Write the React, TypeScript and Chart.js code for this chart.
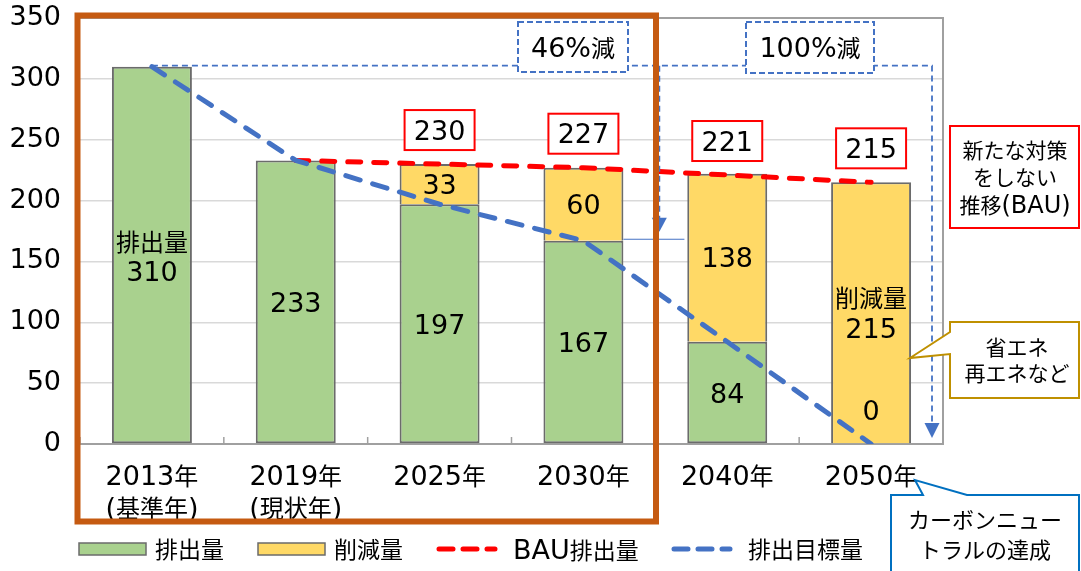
import { useEffect, useRef } from 'react';
import { Chart, registerables } from 'chart.js';

Chart.register(...registerables);

// ---- data ----
const categories = ['2013年', '2019年', '2025年', '2030年', '2040年', '2050年'];
const categoryNotes = ['(基準年)', '(現状年)', '', '', '', ''];
const emissions = [310, 233, 197, 167, 84, 0];
const reductions = [null, null, 33, 60, 138, 215];
const bauTotals = [null, 233, 230, 227, 221, 215];
const targetPath = [310, 233, 197, 167, 84, 0];
const boxedTotals = [null, null, 230, 227, 221, 215];
const yMin = 0;
const yMax = 350;
const yStep = 50;
const seriesNames = ['排出量', '削減量', 'BAU排出量', '排出目標量'];
const reductionNote46 = '46%減';
const reductionNote100 = '100%減';
const bauNote = ['新たな対策', 'をしない', '推移(BAU)'];
const measuresNote = ['省エネ', '再エネなど'];
const neutralNote = ['カーボンニュー', 'トラルの達成'];

const LATIN = '"DejaVu Sans"';
const CJK = '"Noto Sans CJK JP"';

type Run = { t: string; latin: boolean };
function splitRuns(text: string): Run[] {
  const runs: Run[] = [];
  for (const ch of text) {
    const latin = ch.charCodeAt(0) < 0x2000;
    const last = runs[runs.length - 1];
    if (last && last.latin === latin) last.t += ch;
    else runs.push({ t: ch, latin });
  }
  return runs;
}

function drawMixed(
  ctx: CanvasRenderingContext2D,
  text: string,
  x: number,
  cy: number,
  ls: number,
  cs: number,
  align: 'left' | 'center' = 'center',
  color = '#000'
) {
  const runs = splitRuns(text);
  let w = 0;
  const widths = runs.map((r) => {
    ctx.font = r.latin ? `${ls}px ${LATIN}` : `${cs}px ${CJK}`;
    const m = ctx.measureText(r.t).width;
    w += m;
    return m;
  });
  let sx = align === 'center' ? x - w / 2 : x;
  const hasLatin = runs.some((r) => r.latin && r.t.trim().length > 0);
  const base = cy + (hasLatin ? ls * 0.36 : cs * 0.38);
  ctx.textBaseline = 'alphabetic';
  ctx.textAlign = 'left';
  ctx.fillStyle = color;
  runs.forEach((r, i) => {
    ctx.font = r.latin ? `${ls}px ${LATIN}` : `${cs}px ${CJK}`;
    ctx.fillText(r.t, sx, base);
    sx += widths[i];
  });
}

function dashedBox(ctx: CanvasRenderingContext2D, x1: number, y1: number, x2: number, y2: number) {
  ctx.save();
  ctx.fillStyle = '#fff';
  ctx.fillRect(x1, y1, x2 - x1, y2 - y1);
  ctx.strokeStyle = '#4472C4';
  ctx.lineWidth = 2;
  ctx.setLineDash([6, 3]);
  ctx.strokeRect(x1, y1, x2 - x1, y2 - y1);
  ctx.restore();
}

function arrowDown(ctx: CanvasRenderingContext2D, x: number, tipY: number, h: number, hw: number, color: string) {
  ctx.save();
  ctx.fillStyle = color;
  ctx.beginPath();
  ctx.moveTo(x - hw, tipY - h);
  ctx.lineTo(x + hw, tipY - h);
  ctx.lineTo(x, tipY);
  ctx.closePath();
  ctx.fill();
  ctx.restore();
}

function callout(
  ctx: CanvasRenderingContext2D,
  pts: [number, number][],
  color: string
) {
  ctx.save();
  ctx.fillStyle = '#fff';
  ctx.strokeStyle = color;
  ctx.lineWidth = 2;
  ctx.lineJoin = 'miter';
  ctx.beginPath();
  pts.forEach(([px, py], i) => (i === 0 ? ctx.moveTo(px, py) : ctx.lineTo(px, py)));
  ctx.closePath();
  ctx.fill();
  ctx.stroke();
  ctx.restore();
}

const backPlugin = {
  id: 'back',
  beforeDatasetsDraw(chart: any) {
    const { ctx, chartArea: a, scales } = chart;
    const x = scales.x;
    ctx.save();
    ctx.strokeStyle = '#A0A0A0';
    ctx.lineWidth = 2;
    ctx.beginPath();
    ctx.moveTo(a.left, a.top);
    ctx.lineTo(a.right, a.top);
    ctx.lineTo(a.right, a.bottom);
    ctx.lineTo(a.left, a.bottom);
    ctx.stroke();
    const half = (x.getPixelForValue(1) - x.getPixelForValue(0)) / 2;
    ctx.lineWidth = 1.5;
    for (let i = 0; i <= categories.length; i++) {
      const bx = x.getPixelForValue(0) - half + i * half * 2;
      ctx.beginPath();
      ctx.moveTo(bx, a.bottom);
      ctx.lineTo(bx, a.bottom - 7);
      ctx.stroke();
    }
    ctx.restore();
  },
};

const overlayPlugin = {
  id: 'overlay',
  afterDatasetsDraw(chart: any) {
    const { ctx, chartArea: a, scales } = chart;
    const x = scales.x;
    const y = scales.y;
    const ds = chart.data.datasets;
    ctx.save();

    // x labels
    categories.forEach((c, i) => {
      drawMixed(ctx, c, x.getPixelForValue(i), 475, 27, 24);
      if (categoryNotes[i]) drawMixed(ctx, categoryNotes[i], x.getPixelForValue(i), 507, 27, 24);
    });

    // in-bar labels
    emissions.forEach((v, i) => {
      const cx = x.getPixelForValue(i);
      const mid = (y.getPixelForValue(0) + y.getPixelForValue(v)) / 2;
      if (i === 0) {
        drawMixed(ctx, seriesNames[0], cx, mid - 13, 27, 24);
        drawMixed(ctx, String(v), cx, mid + 16, 27, 24);
      } else if (v === 0) {
        drawMixed(ctx, String(v), cx, y.getPixelForValue(0) - 34, 27, 24);
      } else {
        drawMixed(ctx, String(v), cx, mid, 27, 24);
      }
    });
    reductions.forEach((r, i) => {
      if (r == null) return;
      const cx = x.getPixelForValue(i);
      const bottom = y.getPixelForValue(emissions[i]);
      const top = y.getPixelForValue(emissions[i] + r);
      const mid = (bottom + top) / 2;
      if (emissions[i] === 0) {
        drawMixed(ctx, seriesNames[1], cx, mid - 15, 27, 24);
        drawMixed(ctx, String(r), cx, mid + 15, 27, 24);
      } else {
        drawMixed(ctx, String(r), cx, mid, 27, 24);
      }
    });

    // total boxes
    boxedTotals.forEach((t, i) => {
      if (t == null) return;
      const cx = x.getPixelForValue(i);
      const cy = y.getPixelForValue(t) - 34;
      ctx.fillStyle = '#fff';
      ctx.fillRect(cx - 35, cy - 20, 70, 40);
      ctx.strokeStyle = '#FF0000';
      ctx.lineWidth = 2;
      ctx.strokeRect(cx - 35, cy - 20, 70, 40);
      drawMixed(ctx, String(t), cx, cy, 27, 24);
    });

    // reduction guide lines
    const blue = '#4472C4';
    const x0 = x.getPixelForValue(0);
    const yTop = y.getPixelForValue(emissions[0]) - 1;
    const xEnd = a.right - 11;
    const y0 = y.getPixelForValue(0);
    const half = (x.getPixelForValue(1) - x.getPixelForValue(0)) / 2;
    const xMid = x.getPixelForValue(3) + half + 4;
    const y2030 = y.getPixelForValue(emissions[3]);
    ctx.save();
    ctx.strokeStyle = blue;
    ctx.lineWidth = 1.8;
    ctx.setLineDash([6, 4]);
    ctx.beginPath();
    ctx.moveTo(x0, yTop);
    ctx.lineTo(xEnd, yTop);
    ctx.lineTo(xEnd, y0 - 18);
    ctx.stroke();
    ctx.beginPath();
    ctx.moveTo(xMid, yTop);
    ctx.lineTo(xMid, y2030 - 22);
    ctx.stroke();
    ctx.setLineDash([]);
    ctx.lineWidth = 1.2;
    ctx.beginPath();
    ctx.moveTo(x.getPixelForValue(3) + 40, y2030 - 1.5);
    ctx.lineTo(x.getPixelForValue(3) + 101, y2030 - 1.5);
    ctx.stroke();
    ctx.restore();
    arrowDown(ctx, xEnd, y0 - 6, 15, 7.5, blue);
    arrowDown(ctx, xMid, y2030 - 9, 14, 7.5, blue);

    dashedBox(ctx, 518, 22, 628, 72);
    drawMixed(ctx, reductionNote46, 573, 47, 27, 24);
    dashedBox(ctx, 746, 22, 874, 73);
    drawMixed(ctx, reductionNote100, 810, 47, 27, 24);

    // orange frame
    ctx.save();
    ctx.strokeStyle = '#C55A11';
    ctx.lineWidth = 6;
    ctx.strokeRect(77.5, 15.5, 578.5, 506);
    ctx.restore();

    // callouts
    callout(ctx, [[950, 126], [1079, 126], [1079, 228], [950, 228]], '#FF0000');
    bauNote.forEach((l, i) => drawMixed(ctx, l, 1015, 150 + i * 27, 24, 21));

    callout(
      ctx,
      [[950, 322], [1079, 322], [1079, 398], [950, 398], [950, 354], [910, 358], [950, 332]],
      '#BF9000'
    );
    measuresNote.forEach((l, i) => drawMixed(ctx, l, 1017, 347 + i * 26, 24, 21));

    callout(
      ctx,
      [[891, 495], [923, 495], [915, 480], [967, 495], [1079, 495], [1079, 580], [891, 580]],
      '#0070C0'
    );
    neutralNote.forEach((l, i) => drawMixed(ctx, l, 985, 520 + i * 30, 24, 22));

    // legend
    const ly = 549;
    const boxXs = [79, 258];
    [0, 1].forEach((k) => {
      ctx.fillStyle = ds[k].backgroundColor;
      ctx.fillRect(boxXs[k], ly - 6, 67, 12);
      ctx.strokeStyle = '#6B6B6B';
      ctx.lineWidth = 1.5;
      ctx.strokeRect(boxXs[k], ly - 6, 67, 12);
      drawMixed(ctx, ds[k].label, boxXs[k] + 76, ly, 27, 23, 'left');
    });
    const lineXs = [437, 672];
    [2, 3].forEach((k, j) => {
      ctx.save();
      ctx.strokeStyle = ds[k].borderColor;
      ctx.lineWidth = 5;
      ctx.lineCap = 'round';
      ctx.setLineDash([14, 10]);
      ctx.beginPath();
      ctx.moveTo(lineXs[j] + 2, ly);
      ctx.lineTo(lineXs[j] + 58, ly);
      ctx.stroke();
      ctx.restore();
      drawMixed(ctx, ds[k].label, lineXs[j] + 76, ly, 27, 23, 'left');
    });

    ctx.restore();
  },
};

export default function App() {
  const ref = useRef<HTMLCanvasElement | null>(null);
  useEffect(() => {
    let chart: Chart | null = null;
    let cancelled = false;
    const make = () => {
      if (cancelled || !ref.current) return;
      chart = new Chart(ref.current, {
        type: 'bar',
        data: {
          labels: categories,
          datasets: [
            {
              type: 'bar',
              label: seriesNames[0],
              data: emissions,
              backgroundColor: '#A9D18E',
              borderColor: '#6B6B6B',
              borderWidth: 2,
              borderSkipped: false,
              stack: 'bars',
              barPercentage: 0.556,
              categoryPercentage: 1,
              order: 5,
            },
            {
              type: 'bar',
              label: seriesNames[1],
              data: reductions as any,
              backgroundColor: '#FFD966',
              borderColor: '#6B6B6B',
              borderWidth: 2,
              borderSkipped: 'start',
              stack: 'bars',
              barPercentage: 0.556,
              categoryPercentage: 1,
              order: 5,
            },
            {
              type: 'line',
              label: seriesNames[2],
              data: bauTotals as any,
              borderColor: '#FF0000',
              backgroundColor: '#FF0000',
              borderWidth: 5,
              borderDash: [13, 13],
              borderCapStyle: 'round',
              pointRadius: 0,
              fill: false,
              tension: 0,
              stack: 'bau',
              order: 1,
            },
            {
              type: 'line',
              label: seriesNames[3],
              data: targetPath,
              borderColor: '#4472C4',
              backgroundColor: '#4472C4',
              borderWidth: 5,
              borderDash: [15, 13],
              borderCapStyle: 'round',
              pointRadius: 0,
              fill: false,
              tension: 0,
              stack: 'target',
              order: 0,
            },
          ],
        },
        options: {
          responsive: false,
          animation: false,
          devicePixelRatio: 1,
          layout: { padding: { left: 0, right: 138, top: 18, bottom: 0 } },
          plugins: { legend: { display: false }, tooltip: { enabled: false } },
          scales: {
            x: {
              stacked: true,
              offset: true,
              grid: { display: false },
              border: { display: false },
              ticks: { display: false },
              afterFit: (s: any) => {
                s.height = 127;
              },
            },
            y: {
              stacked: true,
              min: yMin,
              max: yMax,
              ticks: {
                stepSize: yStep,
                color: '#000',
                padding: 19,
                font: { family: 'DejaVu Sans', size: 27 },
              },
              grid: { color: '#D9D9D9', lineWidth: 1.5, drawTicks: false },
              border: { display: false },
              afterFit: (s: any) => {
                s.width = 80;
                s.paddingTop = 0;
                s.paddingBottom = 0;
              },
            },
          },
        },
        plugins: [backPlugin, overlayPlugin],
      } as any);
    };
    Promise.all([
      document.fonts.load(`27px ${LATIN}`),
      document.fonts.load(`24px ${CJK}`, '排出量年'),
    ])
      .catch(() => null)
      .then(make);
    return () => {
      cancelled = true;
      if (chart) chart.destroy();
    };
  }, []);
  return (
    <div style={{ position: 'absolute', left: 0, top: 0, width: 1081, height: 571 }}>
      <canvas ref={ref} width={1081} height={571} style={{ display: 'block' }} />
    </div>
  );
}
